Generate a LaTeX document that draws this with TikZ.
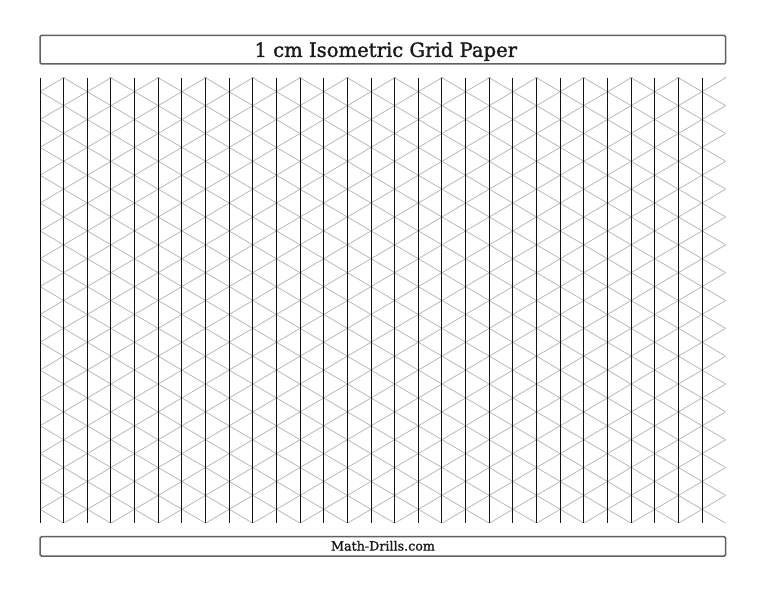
\documentclass[tikz,border=0pt]{standalone}
\usepackage{fontspec}
\setmainfont{DejaVu Serif}
\newfontfamily\semifont{DejaVu Serif}[FakeBold=1.4]
\begin{document}
\begin{tikzpicture}[x=1pt,y=-1pt,
  frame/.style={draw=black!62, line width=1.5pt, rounded corners=1.5pt, inner sep=0pt},
  vline/.style={draw=black!92, line width=1.0pt},
  dline/.style={draw=black!27, line width=0.8pt},
  titletext/.style={font=\semifont\fontsize{19.6}{22}\selectfont, text=black!90, inner sep=0pt, anchor=base},
  foottext/.style={font=\semifont\fontsize{12.7}{15}\selectfont, text=black!90, inner sep=0pt, anchor=base}]
\useasboundingbox (0,0) rectangle (768,594);
\def\ga{23.645}
\def\gs{27.84}
% title and footer boxes
\node[frame, minimum width=685.7pt, minimum height=28.7pt] (titlebox) at (382.85,49.65) {};
\node[titletext] (title) at (385.8,56.9) {1 cm Isometric Grid Paper};
\node[frame, minimum width=685.7pt, minimum height=19.3pt] (footbox) at (382.85,546.35) {};
\node[foottext] (foot) at (383,550.5) {Math-Drills.com};
% isometric grid
\begin{scope}
\clip (40,77.5) rectangle (725.7,522.7);
\foreach \k in {-16,...,16}
  \draw[dline] (40,{91.7+\k*\gs}) -- (725.7,{91.7+\k*\gs+14.5*\gs});
\foreach \k in {-1,...,31}
  \draw[dline] (40,{91.7+\k*\gs}) -- (725.7,{91.7+\k*\gs-14.5*\gs});
\end{scope}
\foreach \i in {0,...,28}
  \draw[vline] ({40+\i*\ga},77.5) -- ({40+\i*\ga},522.7);
\end{tikzpicture}
\end{document}
